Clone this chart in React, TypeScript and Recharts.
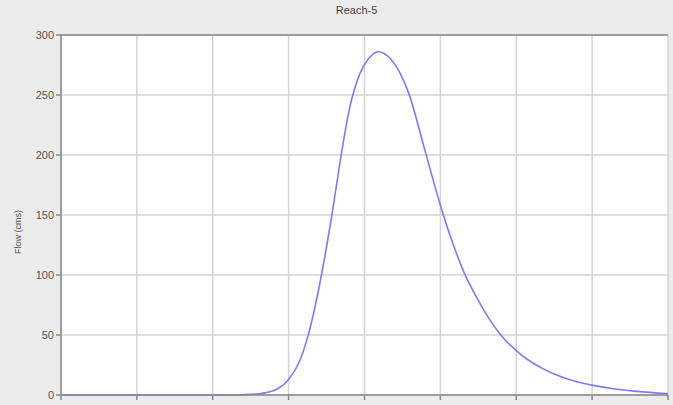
import React from "react";
import { LineChart, Line, XAxis, YAxis, CartesianGrid, ReferenceLine } from "recharts";

// ─── Data ──────────────────────────────────────────────────────────────────────
const TIME = [0, 1, 2, 2.23, 2.5, 2.7, 2.85, 3.0, 3.15, 3.25, 3.37, 3.45, 3.57, 3.68, 3.8, 3.94, 4.05, 4.18, 4.33, 4.47, 4.58, 4.8, 5.02, 5.16, 5.32, 5.43, 5.56, 5.81, 6.02, 6.14, 6.35, 6.6, 6.8, 7.01, 7.3, 7.59, 8];
const FLOW = [0, 0, 0, 0, 0.5, 2, 5, 13, 29, 48, 80, 106, 150, 195, 238, 268, 280, 286, 281, 268, 252, 203, 154, 127, 101, 87, 72, 49, 36, 30, 22, 15, 11, 8, 5, 3, 1];
const X_TICKS = [0, 1, 2, 3, 4, 5, 6, 7, 8];
const Y_TICKS = [0, 50, 100, 150, 200, 250, 300];

const data = TIME.map((t, i) => ({ t, flow: FLOW[i] }));

const TICK = { fill: "#555", fontSize: 11, fontFamily: "Liberation Sans, Arial, sans-serif" };

export default function App() {
  return (
    <div
      style={{
        position: "fixed",
        left: 0,
        top: 0,
        width: 673,
        height: 405,
        background: "#ececec",
        overflow: "hidden",
      }}
    >
      <div
        style={{
          position: "absolute",
          left: 0,
          right: 0,
          top: 4,
          textAlign: "center",
          paddingLeft: 40,
          fontSize: 11,
          color: "#444",
          fontFamily: "Liberation Sans, Arial, sans-serif",
        }}
      >
        Reach-5
      </div>
      <div
        style={{
          position: "absolute",
          left: 18,
          top: 232,
          transform: "translate(-50%, -50%) rotate(-90deg)",
          fontSize: 9,
          color: "#555",
          whiteSpace: "nowrap",
          fontFamily: "Liberation Sans, Arial, sans-serif",
        }}
      >
        Flow (cms)
      </div>
      <LineChart
        width={673}
        height={405}
        data={data}
        margin={{ top: 35, right: 5, bottom: 0, left: 0 }}
      >
        <CartesianGrid stroke="#d4d4d4" strokeWidth={1.5} fill="#ffffff" />
        <XAxis
          dataKey="t"
          type="number"
          domain={[0, 8]}
          ticks={X_TICKS}
          tickFormatter={() => ""}
          height={10}
          tickSize={5}
          stroke="#888"
          strokeWidth={1.5}
          tick={TICK}
        />
        <YAxis
          type="number"
          domain={[0, 300]}
          ticks={Y_TICKS}
          width={61}
          tickSize={5}
          stroke="#888"
          strokeWidth={1.5}
          tick={TICK}
          interval={0}
        />
        <ReferenceLine y={300} stroke="#888" strokeWidth={1.5} />
        <Line
          type="monotone"
          dataKey="flow"
          stroke="#7b7bff"
          strokeWidth={1.6}
          dot={false}
          isAnimationActive={false}
        />
      </LineChart>
    </div>
  );
}
